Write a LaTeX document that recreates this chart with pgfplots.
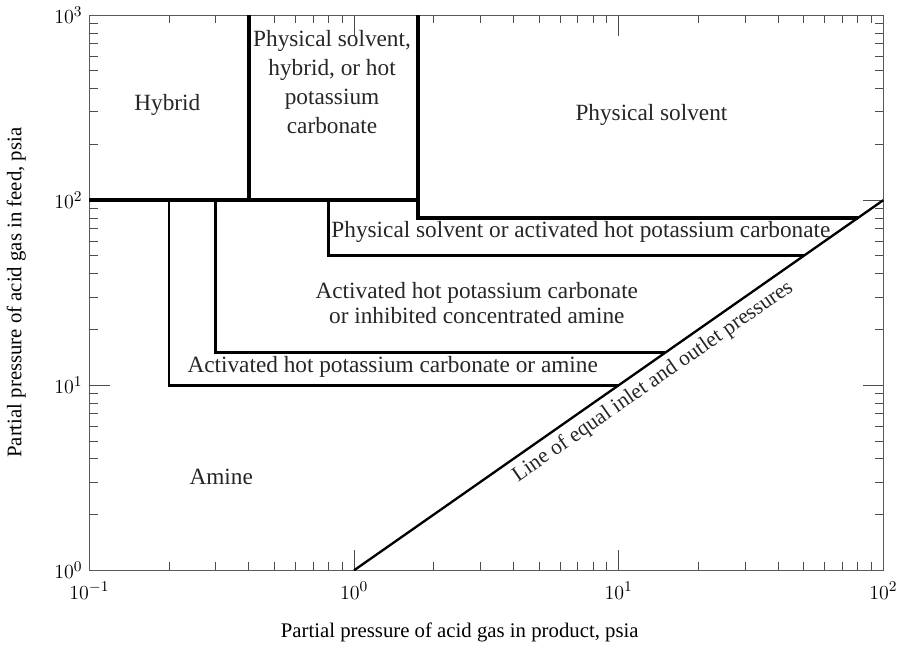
\documentclass[12pt,border=0pt]{standalone}
\usepackage{fontspec}
\setmainfont{Liberation Serif}
\usepackage{pgfplots}
\pgfplotsset{compat=1.18}
\begin{document}
\begin{tikzpicture}
\begin{axis}[
  xmode=log, ymode=log,
  scale only axis,
  width=477.6pt, height=334pt,
  xmin=0.1, xmax=100, ymin=1, ymax=1000,
  axis line style={black!65, line width=0.6pt},
  every tick/.style={black!70, line width=0.5pt},
  major tick length=12.5pt,
  minor tick length=5pt,
  tick label style={font=\fontsize{12.5}{14}\selectfont},
  xticklabel style={yshift=-3pt},
  xlabel={Partial pressure of acid gas in product, psia},
  ylabel={Partial pressure of acid gas in feed, psia},
  label style={font=\fontsize{12.5}{14}\selectfont},
  xlabel style={xshift=-16pt, yshift=-6pt},
  ylabel style={yshift=9pt},
  clip=false,
]
% thick boundaries
\addplot[black, line width=2.4pt, line join=miter] coordinates {(0.1,100) (1.75,100)};
\addplot[black, line width=2.4pt] coordinates {(0.4,100) (0.4,1000)};
\addplot[black, line width=2.4pt, line join=miter] coordinates {(1.75,1000) (1.75,80) (80,80)};
% other boundaries
\addplot[black, line width=1.8pt, line join=miter] coordinates {(0.8,100) (0.8,50) (50,50)};
\addplot[black, line width=1.7pt, line join=miter] coordinates {(0.3,100) (0.3,15) (15,15)};
\addplot[black, line width=1.7pt, line join=miter] coordinates {(0.2,100) (0.2,10) (10,10)};
% diagonal
\addplot[black, line width=1.4pt] coordinates {(1,1) (100,100)};

\begin{scope}[every node/.style={font=\fontsize{14}{17.4}\selectfont, align=center, text=black!85}]
\node at (axis cs:0.197,326) {Hybrid};
\node at (axis cs:0.826,434) {Physical solvent,\\hybrid, or hot\\potassium\\carbonate};
\node at (axis cs:13.3,288) {Physical solvent};
\node at (axis cs:7.2,67.1) {Physical solvent or activated hot potassium carbonate};
\node[font=\fontsize{14}{15}\selectfont] at (axis cs:2.91,27.7) {Activated hot potassium carbonate\\or inhibited concentrated amine};
\node at (axis cs:1.40,12.5) {Activated hot potassium carbonate or amine};
\node at (axis cs:0.315,3.18) {Amine};
\node[font=\fontsize{13}{15}\selectfont, rotate=34.8, anchor=north, inner sep=4pt] at (axis cs:12.4,12.4) {Line of equal inlet and outlet pressures};
\end{scope}
\end{axis}
\end{tikzpicture}
\end{document}
